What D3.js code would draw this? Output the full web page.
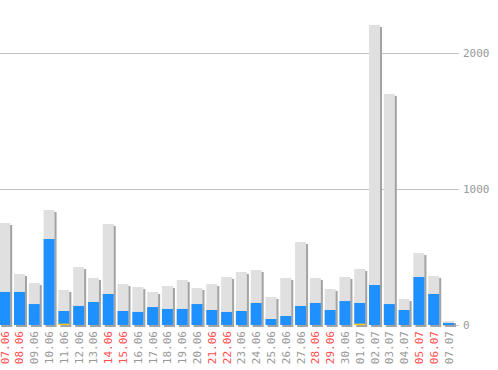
<!DOCTYPE html>
<html>
<head>
<meta charset="utf-8">
<script src="https://cdn.jsdelivr.net/npm/d3@7"></script>
<style>
  body { margin: 0; background: #fff; }
  svg { display: block; }
  text { font-family: "DejaVu Sans Mono", monospace; font-size: 11px; }
</style>
</head>
<body>
<svg id="vis-svg" width="498" height="370"></svg>
<script>
const days = ["07.06","08.06","09.06","10.06","11.06","12.06","13.06","14.06","15.06","16.06",
  "17.06","18.06","19.06","20.06","21.06","22.06","23.06","24.06","25.06","26.06",
  "27.06","28.06","29.06","30.06","01.07","02.07","03.07","04.07","05.07","06.07","07.07"]
const weekend = ["07.06","08.06","14.06","15.06","21.06","22.06","28.06","29.06","05.07","06.07"]

const totals = [750,375,309,846,257,426,346,743,301,279,
  243,287,331,272,301,353,390,404,206,346,
  610,346,265,353,412,2206,1699,191,529,360,29]
const subset = [243,243,154,632,103,140,169,228,103,96,
  132,118,118,154,110,96,103,162,44,66,
  140,162,110,176,162,294,154,110,353,228,15]
const extra = [0,0,0,0,10,0,0,0,0,0,
  0,0,0,0,0,0,0,0,0,0,
  0,0,0,0,10,0,0,0,0,0,0]
const yTicks = [0, 1000, 2000]

const rows = days.map((d, i) => ({ d, total: totals[i], sub: subset[i], extra: extra[i] }))

const svg = d3.select("#vis-svg")

const x = d3.scaleBand()
  .domain(days)
  .range([-0.8, 454])
  .paddingInner(0.257)
  .paddingOuter(0)

const y = d3.scaleLinear().domain([0, 2000]).range([325, 53])

const gridEnd = 459

// gridlines + labels on the right
const grid = svg.append("g")
grid.selectAll("line")
  .data(yTicks)
  .join("line")
    .attr("x1", t => t === 0 ? x(days[days.length - 1]) : 0)
    .attr("x2", gridEnd)
    .attr("y1", t => Math.round(y(t)) + 0.5)
    .attr("y2", t => Math.round(y(t)) + 0.5)
    .attr("stroke", "#c4c4c4")
grid.selectAll("text")
  .data(yTicks)
  .join("text")
    .attr("x", gridEnd + 4)
    .attr("y", t => y(t) + 4)
    .attr("fill", "#999")
    .text(t => t)

const bars = svg.append("g")
  .selectAll("g")
  .data(rows)
  .join("g")

// shadow
bars.append("rect")
  .attr("x", r => x(r.d) + 2)
  .attr("y", r => y(r.total) + 2)
  .attr("width", x.bandwidth())
  .attr("height", r => y(0) - y(r.total))
  .attr("fill", "#a3a3a3")

bars.append("rect")
  .attr("x", r => x(r.d))
  .attr("y", r => y(r.total))
  .attr("width", x.bandwidth())
  .attr("height", r => y(0) - y(r.total))
  .attr("fill", "#e0e0e0")

bars.append("rect")
  .attr("x", r => x(r.d))
  .attr("y", r => y(r.sub))
  .attr("width", x.bandwidth())
  .attr("height", r => y(0) - y(r.sub))
  .attr("fill", "#1e90ff")

bars.filter(r => r.extra > 0).append("rect")
  .attr("x", r => x(r.d))
  .attr("y", r => y(r.extra))
  .attr("width", x.bandwidth())
  .attr("height", r => y(0) - y(r.extra))
  .attr("fill", "#ffcc00")

// rotated date labels
svg.append("g")
  .selectAll("text")
  .data(days)
  .join("text")
    .attr("transform", d => `translate(${x(d) + x.bandwidth() / 2 + 4},331) rotate(-90)`)
    .attr("text-anchor", "end")
    .attr("fill", d => weekend.includes(d) ? "#ff4f4f" : "#999")
    .text(d => d)
</script>
</body>
</html>
